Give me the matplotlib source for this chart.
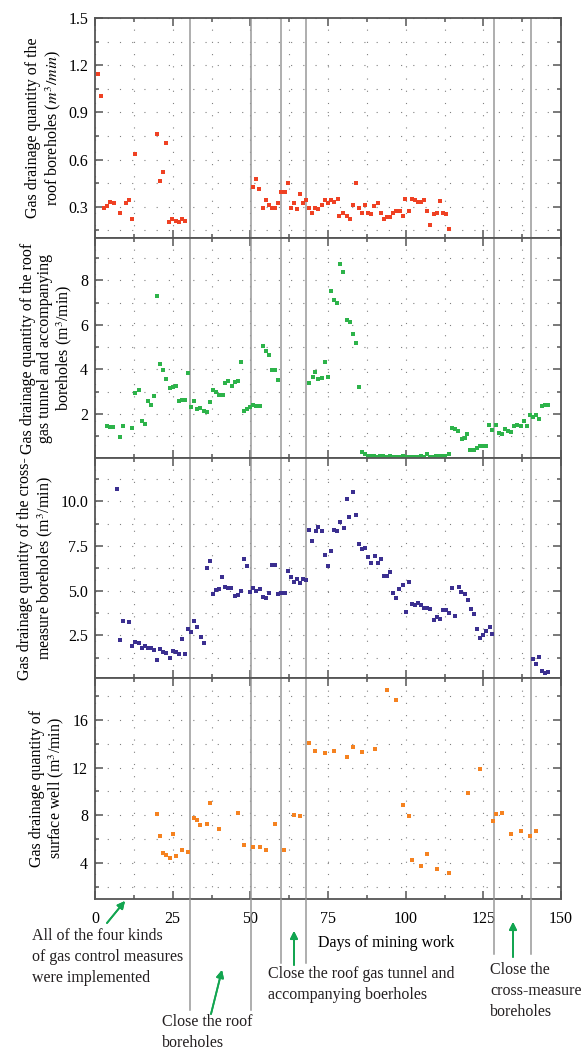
# Gas drainage quantities of the four gas control measures vs. days of mining work
import matplotlib
matplotlib.use("Agg")
import matplotlib.pyplot as plt
import matplotlib.transforms as mtransforms
from matplotlib.lines import Line2D
from matplotlib.ticker import MultipleLocator, FixedLocator, FormatStrFormatter

# Roof boreholes
roof_days = [0.9, 1.9, 2.8, 3.9, 4.8, 6.1, 8.0, 10.0, 10.9, 11.9, 12.9, 20.0, 20.9, 21.9, 22.9, 23.8, 24.8,
             26.1, 26.9, 28.0, 29.0,
             50.9, 51.8, 52.8, 54.1, 55.0, 56.0, 57.0, 57.9, 58.9, 59.9, 61.2, 62.1, 63.1, 64.0, 65.0, 66.0,
             66.9, 67.9, 68.9, 69.8, 70.8, 71.8, 73.1, 74.0, 75.0, 76.0, 76.9, 78.2, 78.7, 79.8, 81.0, 82.1,
             83.0, 84.0, 85.0, 85.9, 86.9, 87.9, 88.8, 89.8, 91.1, 92.0, 93.0, 94.0, 94.9, 95.9, 96.9, 98.2,
             99.1, 99.8, 101.1, 102.0, 103.0, 104.0, 104.9, 105.9, 106.9, 107.8, 109.1, 110.1, 111.0, 112.0,
             113.0, 113.9]
roof_gas = [1.143, 1.007, 0.289, 0.302, 0.327, 0.321, 0.257, 0.321, 0.34, 0.219, 0.633, 0.761, 0.465, 0.518,
            0.703, 0.2, 0.219, 0.206, 0.2, 0.219, 0.206,
            0.423, 0.474, 0.41, 0.289, 0.34, 0.308, 0.289, 0.289, 0.321, 0.391, 0.391, 0.448, 0.289, 0.321,
            0.283, 0.378, 0.321, 0.34, 0.289, 0.257, 0.289, 0.283, 0.308, 0.34, 0.321, 0.34, 0.327, 0.346,
            0.238, 0.257, 0.238, 0.219, 0.308, 0.448, 0.289, 0.257, 0.308, 0.257, 0.251, 0.302, 0.321, 0.257,
            0.219, 0.232, 0.232, 0.257, 0.27, 0.27, 0.238, 0.346, 0.27, 0.346, 0.34, 0.327, 0.327, 0.34, 0.27,
            0.181, 0.251, 0.257, 0.333, 0.257, 0.251, 0.155]

# Roof gas tunnel and accompanying boreholes
tunnel_days = [3.9, 4.8, 5.8, 8.0, 9.0, 11.9, 12.9, 14.2, 15.1, 16.1, 17.1, 18.0, 19.0, 20.0, 20.9, 21.9, 22.9,
               24.1, 25.1, 26.1, 27.0, 28.0, 29.0, 29.9, 30.9, 31.9, 32.8, 33.8, 35.1, 36.0, 37.0, 38.0, 38.9,
               39.9, 41.2, 41.8, 42.8, 44.1, 45.1, 46.0, 47.0, 48.0, 48.9, 49.9, 50.9, 51.8, 53.1, 54.1, 55.0,
               56.0, 57.0, 57.9, 58.9,
               68.9, 70.2, 70.8, 71.8, 73.1, 74.0, 75.0, 76.0, 76.9, 77.9, 78.9, 79.8, 81.1, 82.1, 83.0, 84.0,
               85.0, 85.9, 86.9,
               87.9, 88.8, 89.8, 91.1, 91.7, 92.7, 94.0, 94.9, 95.9, 96.9, 97.8, 99.1, 100.1, 101.1, 102.0,
               103.0, 104.0, 104.9, 105.9, 106.9, 107.8, 108.8, 109.8, 110.7, 111.7, 112.6, 113.9,
               114.9, 115.9, 116.8, 118.1, 119.1, 119.7, 120.7, 122.0, 122.9, 123.9, 124.9, 125.8, 126.8, 127.8,
               129.1, 130.0, 131.0, 132.0, 132.9, 133.9, 134.9, 135.8, 137.1, 138.1, 139.0, 140.0, 141.0, 141.9,
               142.9, 143.9, 144.8, 145.8]
tunnel_gas = [1.47, 1.42, 1.42, 0.96, 1.47, 1.38, 2.95, 3.08, 1.69, 1.56, 2.59, 2.41, 2.81, 7.30, 4.25, 3.98,
              3.58, 3.17, 3.22, 3.26, 2.59, 2.63, 2.63, 3.84, 2.32, 2.59, 2.23, 2.27, 2.14, 2.10, 2.54, 3.08,
              2.99, 2.86, 2.86, 3.40, 3.49, 3.26, 3.44, 3.49, 4.34, 2.14, 2.23, 2.32, 2.41, 2.36, 2.36, 5.06,
              4.83, 4.65, 3.98, 3.98, 3.53,
              3.40, 3.67, 3.89, 3.58, 3.62, 4.34, 3.67, 7.52, 7.12, 6.98, 8.73, 8.37, 6.22, 6.13, 5.59, 5.19,
              3.22, 0.26, 0.21,
              0.12, 0.12, 0.12, 0.06, 0.12, 0.12, 0.06, 0.12, 0.06, 0.06, 0.06, 0.12, 0.06, 0.06, 0.06, 0.06,
              0.06, 0.12, 0.06, 0.17, 0.06, 0.06, 0.12, 0.12, 0.12, 0.12, 0.17,
              1.38, 1.33, 1.24, 0.88, 0.93, 1.11, 0.35, 0.35, 0.48, 0.57, 0.57, 0.53, 1.51, 1.29, 1.51, 1.15,
              1.11, 1.33, 1.24, 1.20, 1.47, 1.51, 1.47, 1.69, 1.47, 1.96, 1.87, 1.96, 1.78, 2.36, 2.41, 2.41]

# Cross-measure boreholes
cross_days = [7.1, 8.0, 9.0, 10.9, 11.9, 12.9, 14.2, 15.1, 16.1, 17.1, 18.0, 19.0, 20.0, 20.9, 21.9, 22.9, 24.1,
              25.1, 26.1, 27.0, 28.0, 29.0, 29.9, 30.9, 31.9, 32.8, 34.1, 35.1, 36.0, 37.0, 38.0, 38.9, 39.9,
              40.9, 41.8, 42.8, 43.8, 45.1, 46.0, 47.0, 48.0, 48.9, 49.9, 50.9, 51.8, 53.1, 54.1, 55.0, 56.0,
              57.0, 57.9, 58.9, 59.9, 61.2, 62.1, 63.1, 64.0, 65.0, 66.0, 66.9, 67.9, 68.9, 69.8, 71.1, 71.8,
              73.1, 74.0, 75.0, 76.0, 76.9, 77.9, 78.9, 80.1, 81.1, 81.7, 83.0, 84.0, 85.0, 85.9, 86.9, 87.9,
              88.8, 90.1, 91.1, 92.0, 93.0, 94.0, 94.9, 95.9, 96.9, 97.8, 99.1, 100.1, 101.1, 102.0, 103.0,
              104.0, 104.9, 105.9, 106.9, 107.8, 109.1, 110.1, 111.0, 112.0, 113.0, 113.9, 114.9, 115.9, 117.2,
              117.8, 119.1, 120.0, 121.0, 122.0, 122.9, 123.9, 124.9, 125.8, 127.1, 127.8,
              141.0, 141.9, 142.9, 143.9, 144.8, 145.8]
cross_gas = [10.69, 2.24, 3.30, 3.25, 1.90, 2.13, 2.07, 1.79, 1.90, 1.79, 1.79, 1.68, 1.12, 1.74, 1.57, 1.51,
             1.23, 1.62, 1.57, 1.46, 2.29, 1.46, 2.85, 2.69, 3.30, 2.97, 2.41, 2.07, 6.27, 6.66, 4.81, 5.04,
             5.09, 5.76, 5.21, 5.15, 5.15, 4.70, 4.76, 4.98, 6.77, 6.38, 4.93, 5.15, 4.98, 5.09, 4.65, 4.59,
             4.87, 6.44, 6.44, 4.81, 4.87, 4.87, 6.10, 5.76, 5.49, 5.65, 5.43, 5.65, 5.60, 8.40, 7.78, 8.34,
             8.56, 8.34, 7.00, 6.38, 7.22, 8.40, 8.34, 8.84, 8.51, 10.13, 9.12, 10.52, 9.24, 7.61, 7.33, 7.39,
             6.88, 6.55, 6.94, 6.55, 6.77, 5.82, 5.82, 6.04, 4.87, 4.59, 5.09, 5.32, 3.81, 5.49, 4.25, 4.20,
             4.31, 4.20, 4.03, 4.03, 3.97, 3.36, 3.53, 3.41, 3.92, 3.92, 3.75, 5.15, 3.58, 5.21, 4.93, 4.81,
             4.48, 3.97, 3.69, 2.85, 2.35, 2.52, 2.74, 2.97, 2.57,
             1.18, 0.90, 1.29, 0.50, 0.39, 0.45]

# Surface well
well_days = [20.0, 20.9, 21.9, 22.9, 24.1, 25.1, 26.1, 28.0, 29.9, 31.9, 32.8, 33.8, 36.0, 37.0, 39.9, 46.0,
             48.0, 50.9, 53.1, 55.0, 57.9, 60.8, 64.0, 66.0, 68.9, 70.8, 74.0, 76.9, 81.1, 83.0, 85.9, 90.1,
             94.0, 96.9, 99.1, 101.1, 102.0, 104.9, 106.9, 110.1, 113.9, 120.0, 123.9, 128.0, 129.1, 131.0,
             133.9, 137.1, 140.0, 141.9]
well_gas = [8.07, 6.22, 4.80, 4.63, 4.38, 6.39, 4.54, 5.05, 4.88, 7.74, 7.57, 7.15, 7.23, 9.00, 6.81, 8.16,
            5.47, 5.30, 5.30, 5.05, 7.23, 5.05, 7.99, 7.90, 14.04, 13.37, 13.20, 13.37, 12.86, 13.70, 13.28,
            13.54, 18.49, 17.65, 8.83, 7.90, 4.21, 3.70, 4.71, 3.45, 3.11, 9.84, 11.85, 7.48, 8.07, 8.16,
            6.39, 6.64, 6.22, 6.64]

# Tick labels of each panel
roof_ticks = [0.3, 0.6, 0.9, 1.2, 1.5]
tunnel_ticks = [2, 4, 6, 8]
cross_ticks = [2.5, 5.0, 7.5, 10.0]
well_ticks = [4, 8, 12, 16]

# Days on which a measure was closed
event_days = [30.7, 50.2, 60.0, 67.8, 128.3, 140.3]

plt.rcParams['font.family'] = ['Liberation Serif', 'DejaVu Serif']
plt.rcParams['mathtext.fontset'] = 'stix'
plt.rcParams['font.size'] = 11.5

W, H = 581, 1049
fig, axes = plt.subplots(4, 1, sharex=True, figsize=(W / 100, H / 100), dpi=100,
                         gridspec_kw=dict(hspace=0))
fig.subplots_adjust(left=95 / W, right=561 / W, top=1 - 18 / H, bottom=1 - 898.5 / H)

panels = [
    (roof_days, roof_gas, '#ef4123', (0.1, 1.5), roof_ticks, 0.15, '%.1f',
     'Gas drainage quantity of the\nroof boreholes ($m^3/min$)'),
    (tunnel_days, tunnel_gas, '#2db34a', (0, 9.9), tunnel_ticks, 1, '%d',
     'Gas drainage quantity of the roof\ngas tunnel and accompanying\nboreholes (m$^3$/min)'),
    (cross_days, cross_gas, '#3b2f90', (0.1, 12.4), cross_ticks, 1.25, '%.1f',
     'Gas drainage quantity of the cross-\nmeasure boreholes (m$^3$/min)'),
    (well_days, well_gas, '#f58220', (1, 19.5), well_ticks, 2, '%d',
     'Gas drainage quantity of\nsurface well (m$^3$/min)'),
]

spine_col = '#555555'
for ax, (x, y, col, ylim, ticks, minor, fmt, label) in zip(axes, panels):
    ax.plot(x, y, 's', color=col, markersize=3.2, markeredgewidth=0, zorder=3)
    ax.set_xlim(0, 150)
    ax.set_ylim(*ylim)
    ax.yaxis.set_major_locator(FixedLocator(ticks))
    ax.yaxis.set_minor_locator(MultipleLocator(minor))
    ax.yaxis.set_major_formatter(FormatStrFormatter(fmt))
    ax.xaxis.set_major_locator(MultipleLocator(25))
    ax.xaxis.set_minor_locator(MultipleLocator(12.5))
    ax.grid(which='both', color='#808080', lw=0.8, ls=(0, (1, 10)))
    ax.tick_params(which='both', direction='in', top=True, right=True, color=spine_col,
                   width=1.1, pad=5)
    ax.tick_params(which='major', length=6)
    ax.tick_params(which='minor', length=3)
    for s in ax.spines.values():
        s.set_color(spine_col)
        s.set_linewidth(1.3)
    ax.set_ylabel(label, linespacing=1.12)
    for d in event_days:
        ax.axvline(d, color='#999999', lw=1.1, zorder=2)

axes[-1].tick_params(axis='x', pad=9)
axes[-1].set_xlabel('Days of mining work', va='center')
axes[-1].xaxis.set_label_coords((386 - 95) / 466, -44 / 220)

# Extend the event lines below the bottom panel
line_ends = [1010, 1010, 963, 963, 954, 954]
trans = mtransforms.blended_transform_factory(axes[-1].transData, fig.transFigure)
for d, yend in zip(event_days, line_ends):
    fig.add_artist(Line2D([d, d], [1 - yend / H, 1 - 898.5 / H], transform=trans,
                          color='#999999', lw=1.1))

# Notes with green arrows
arrow_col = '#12a550'
notes = [
    ('All of the four kinds\nof gas control measures\nwere implemented', 32, 928, (107, 923), (125, 901)),
    ('Close the roof\nboreholes', 162, 1014, (211, 1014), (222, 970)),
    ('Close the roof gas tunnel and\naccompanying boerholes', 268, 966, (294, 965), (294, 931)),
    ('Close the\ncross-measure\nboreholes', 490, 962, (513, 957), (513, 922)),
]
for txt, tx, ty, tail, head in notes:
    fig.text(tx / W, 1 - ty / H, txt, ha='left', va='top', linespacing=1.4, color='#231f20')
    fig.add_artist(plt.annotate('', xy=(head[0] / W, 1 - head[1] / H), xycoords='figure fraction',
                                xytext=(tail[0] / W, 1 - tail[1] / H), textcoords='figure fraction',
                                arrowprops=dict(arrowstyle='-|>', color=arrow_col, lw=1.3,
                                                mutation_scale=11, shrinkA=0, shrinkB=0)))

fig.savefig('out.png', dpi=100)
